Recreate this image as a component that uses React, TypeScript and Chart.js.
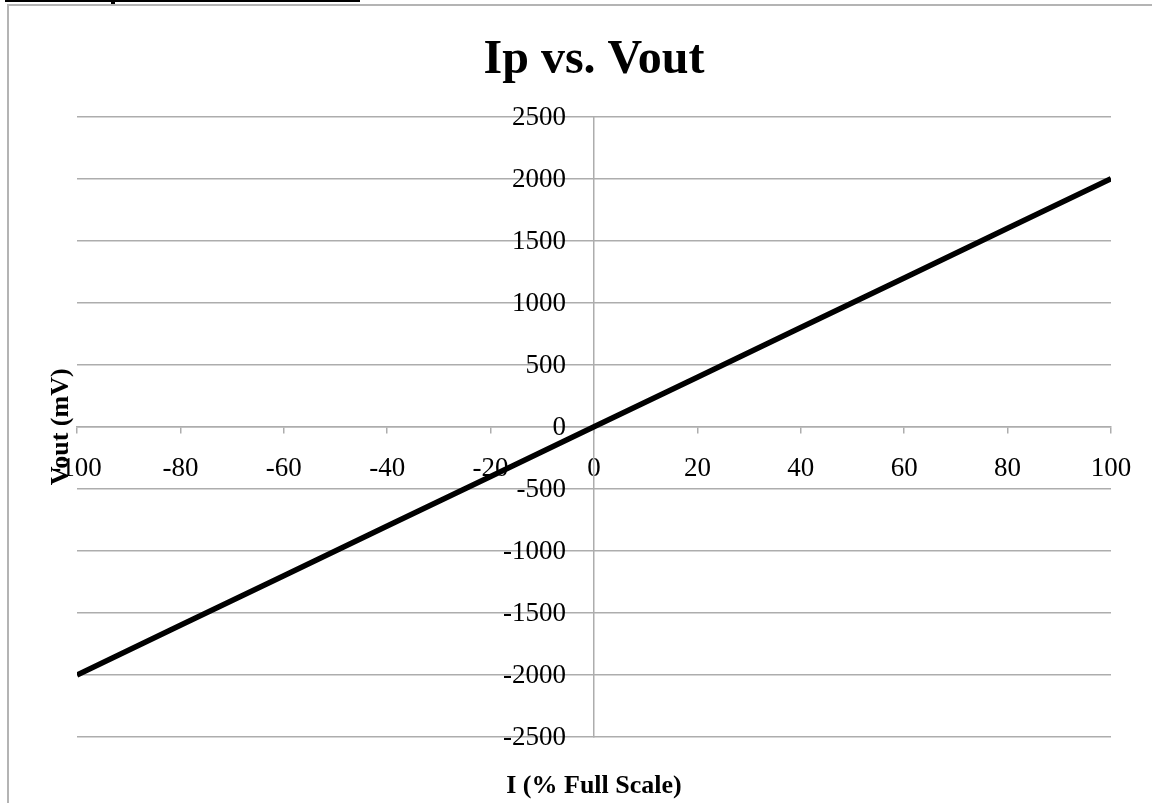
import React, { useEffect, useRef } from "react";
import { Chart, registerables } from "chart.js";

Chart.register(...registerables);

const currentPct: number[] = [-100, -80, -60, -40, -20, 0, 20, 40, 60, 80, 100];
const voutMv: number[] = [-2000, -1600, -1200, -800, -400, 0, 400, 800, 1200, 1600, 2000];
const chartTitle = "Ip vs. Vout";
const xTitle = "I (% Full Scale)";
const yTitle = "Vout (mV)";

const FONT = "'Liberation Serif', 'Times New Roman', serif";
const GRID = "#adadad";
const Y_LABEL_GAP = 28;

const decorPlugin = {
  id: "decor",
  beforeDraw(chart: any) {
    const ctx = chart.ctx;
    ctx.save();
    ctx.fillStyle = "#ffffff";
    ctx.fillRect(0, 0, chart.width, chart.height);
    // frame
    ctx.fillStyle = "#b4b4b4";
    ctx.fillRect(7, 4, 2, chart.height);
    ctx.fillRect(7, 4, chart.width, 2);
    // black rule at the top
    ctx.fillStyle = "#000000";
    ctx.fillRect(5, 0, 355, 2);
    ctx.fillRect(111, 2, 4, 2);
    ctx.restore();
  },
  afterDraw(chart: any) {
    const ctx = chart.ctx;
    const area = chart.chartArea;
    const xs = chart.scales.x;
    const ys = chart.scales.y;
    ctx.save();
    ctx.fillStyle = "#000000";
    // y tick labels, set off from the centred axis
    ctx.font = `27px ${FONT}`;
    ctx.textAlign = "right";
    ctx.textBaseline = "middle";
    const axisX = xs.getPixelForValue(0);
    for (const t of ys.ticks) {
      ctx.fillText(String(t.value), axisX - Y_LABEL_GAP, ys.getPixelForValue(t.value) + 1);
    }
    // axis titles
    ctx.font = `bold 26px ${FONT}`;
    ctx.textAlign = "center";
    ctx.fillText(xTitle, axisX, 786);
    ctx.translate(61, (area.top + area.bottom) / 2);
    ctx.rotate(-Math.PI / 2);
    ctx.fillText(yTitle, 0, 0);
    ctx.restore();
  },
};

export default function App() {
  const canvasRef = useRef<HTMLCanvasElement | null>(null);

  useEffect(() => {
    if (!canvasRef.current) return;
    const points = currentPct.map((x, i) => ({ x, y: voutMv[i] }));
    const chart = new Chart(canvasRef.current, {
      type: "scatter",
      data: {
        datasets: [
          {
            data: points,
            showLine: true,
            borderColor: "#000000",
            borderWidth: 5.5,
            pointRadius: 0,
            pointHoverRadius: 0,
            borderCapStyle: "butt",
            fill: false,
          } as any,
        ],
      },
      options: {
        responsive: false,
        animation: false,
        layout: { padding: { left: 77, right: 41, top: 0, bottom: 66 } },
        plugins: {
          legend: { display: false },
          tooltip: { enabled: false },
          title: {
            display: true,
            text: chartTitle,
            color: "#000000",
            font: { family: FONT, size: 48, weight: "bold", lineHeight: 1.2 },
            padding: { top: 32, bottom: 27 },
          },
        },
        scales: {
          x: {
            type: "linear",
            position: { y: 0 } as any,
            min: -100,
            max: 100,
            ticks: {
              stepSize: 20,
              color: "#000000",
              font: { family: FONT, size: 27 },
              padding: 20,
              maxRotation: 0,
            },
            grid: {
              drawOnChartArea: false,
              drawTicks: true,
              tickLength: 6,
              color: GRID,
              lineWidth: 1.5,
            },
            border: { display: true, color: GRID, width: 1.5 },
          },
          y: {
            type: "linear",
            position: { x: 0 } as any,
            min: -2500,
            max: 2500,
            ticks: {
              stepSize: 500,
              display: false,
            },
            grid: {
              drawOnChartArea: true,
              drawTicks: false,
              color: GRID,
              lineWidth: 1.5,
            },
            border: { display: true, color: GRID, width: 1.5 },
          },
        },
      },
      plugins: [decorPlugin],
    });
    return () => chart.destroy();
  }, []);

  return (
    <div style={{ position: "absolute", left: 0, top: 0, width: 1152, height: 803, background: "#fff" }}>
      <canvas ref={canvasRef} width={1152} height={803} style={{ display: "block" }} />
    </div>
  );
}
